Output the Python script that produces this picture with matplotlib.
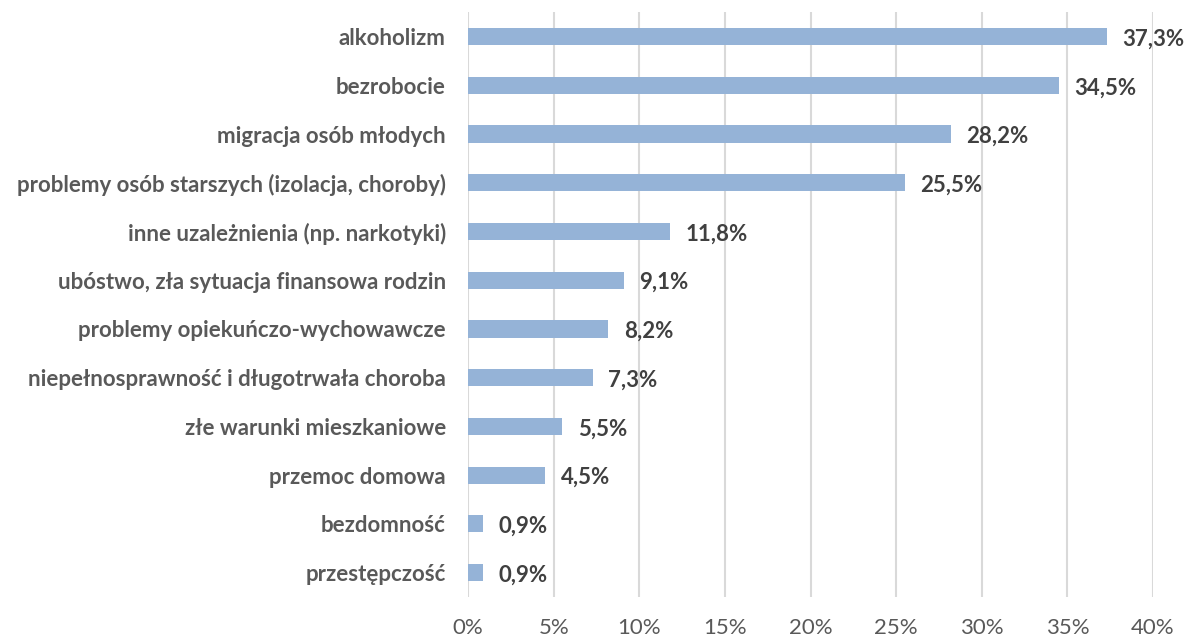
import matplotlib.pyplot as plt
from matplotlib.ticker import FuncFormatter

categories = [
    "alkoholizm",
    "bezrobocie",
    "migracja osób młodych",
    "problemy osób starszych (izolacja, choroby)",
    "inne uzależnienia (np. narkotyki)",
    "ubóstwo, zła sytuacja finansowa rodzin",
    "problemy opiekuńczo-wychowawcze",
    "niepełnosprawność i długotrwała choroba",
    "złe warunki mieszkaniowe",
    "przemoc domowa",
    "bezdomność",
    "przestępczość",
]
values = [37.3, 34.5, 28.2, 25.5, 11.8, 9.1, 8.2, 7.3, 5.5, 4.5, 0.9, 0.9]
xticks = [0, 5, 10, 15, 20, 25, 30, 35, 40]

plt.rcParams['font.family'] = ['Lato', 'DejaVu Sans']

fig = plt.figure(figsize=(11.85, 6.41), dpi=100)
ax = fig.add_axes([0.395, 0.0686, 0.578, 0.9124])

y = list(range(len(categories)))
ax.barh(y, values, height=0.35, color="#95B3D7", zorder=3)
ax.set_ylim(len(categories) - 0.5, -0.5)
ax.set_xlim(0, 40)

for yi, v in zip(y, values):
    ax.text(v + 0.9, yi + 0.05, f"{v:.1f}%".replace(".", ","), va="center", ha="left",
            fontsize=16, fontweight="bold", color="#404040")

ax.set_yticks(y)
ax.set_yticklabels(categories, fontsize=16, fontweight="bold", color="#595959")
ax.set_xticks(xticks)
ax.xaxis.set_major_formatter(FuncFormatter(lambda x, p: f"{x:.0f}%"))
ax.tick_params(axis="x", labelsize=16, labelcolor="#595959", length=0, pad=15)
ax.tick_params(axis="y", length=0, pad=16)

ax.grid(axis="x", color="#D9D9D9", linewidth=1.5, zorder=0)
for s in ax.spines.values():
    s.set_visible(False)

fig.savefig("out.png", dpi=100)
